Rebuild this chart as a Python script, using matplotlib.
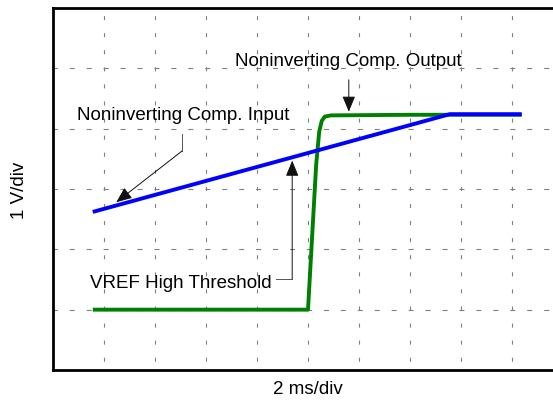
import matplotlib
matplotlib.use("Agg")
import matplotlib.pyplot as plt
import numpy as np

plt.rcParams['font.family'] = ['Liberation Sans', 'DejaVu Sans']
plt.rcParams['lines.scale_dashes'] = False

# Data (in divisions: x = 2 ms/div, y = 1 V/div)
green_x = [0.78, 5.00, 5.08, 5.16, 5.22, 5.27, 5.33, 5.45, 7.0, 9.19]
green_y = [1.00, 1.00, 2.20, 3.40, 3.95, 4.13, 4.20, 4.22, 4.23, 4.23]
blue_x = [0.78, 7.78, 9.19]
blue_y = [2.62, 4.24, 4.24]

x_ticks = list(range(1, 10))
y_ticks = list(range(1, 6))

W, H = 553, 402
fig = plt.figure(figsize=(W / 100, H / 100), dpi=100)
ax = fig.add_axes([53 / W, 31 / H, 510 / W, 362 / H])
ax.set_xlim(0, 10)
ax.set_ylim(0, 6)

# grid
for xv in x_ticks:
    ax.axvline(xv, color='#808080', lw=0.8, linestyle=(6.0, (2.9, 9.4)), zorder=1)
for yv in y_ticks:
    ax.axhline(yv, color='#808080', lw=0.8, linestyle=(0.5, (3.6, 8.6)), zorder=1)

ax.set_xticks([])
ax.set_yticks([])
for s in ['left', 'bottom', 'top']:
    ax.spines[s].set_linewidth(2.0)
ax.spines['right'].set_visible(False)

ax.plot(green_x, green_y, color='#008000', lw=2.8, solid_capstyle='butt', zorder=3)
ax.plot(blue_x, blue_y, color='#0000ff', lw=2.8, solid_capstyle='butt', zorder=4)

fs = 13.5
txt_kw = dict(fontsize=fs, color='black', ha='center', va='center_baseline')
ax.text(5.80, 5.17, 'Noninverting Comp. Output', **txt_kw)
ax.text(2.55, 4.26, 'Noninverting Comp. Input', **txt_kw)
ax.text(2.50, 1.49, 'VREF High Threshold', **txt_kw)

arr = dict(arrowstyle='-|>,head_length=0.8,head_width=0.33', color='#111111',
           lw=0.7, mutation_scale=12, shrinkA=0, shrinkB=0)
# output arrow
ax.annotate('', xy=(5.80, 4.28), xytext=(5.80, 4.81), arrowprops=arr, zorder=5)
# input leader
ax.plot([2.53, 2.53], [3.91, 3.63], color='#555555', lw=0.7, zorder=5)
ax.annotate('', xy=(1.24, 2.78), xytext=(2.53, 3.63), arrowprops=arr, zorder=5)
# vref leader
ax.plot([4.37, 4.69], [1.51, 1.51], color='#555555', lw=0.7, zorder=5)
ax.annotate('', xy=(4.69, 3.47), xytext=(4.69, 1.51), arrowprops=arr, zorder=5)

fig.text(20 / W, 1 - 190 / H, '1 V/div', rotation=90, fontsize=fs, ha='center', va='center')
fig.text(308 / W, 1 - 390 / H, '2 ms/div', fontsize=fs, ha='center', va='center')

fig.savefig('out.png', dpi=100)
